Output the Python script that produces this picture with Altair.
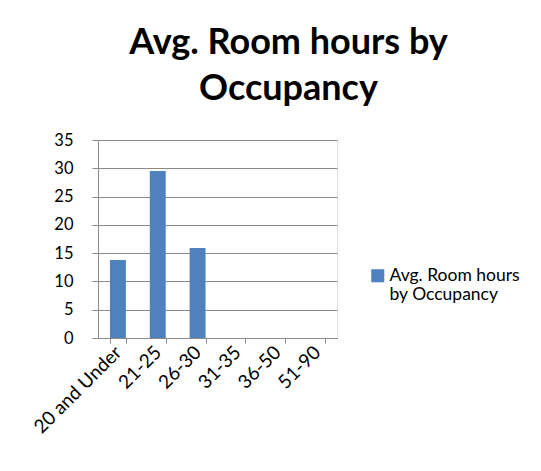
import altair as alt
import pandas as pd

categories = ["20 and Under", "21-25", "26-30", "31-35", "36-50", "51-90"]
values = [13.8, 29.5, 15.9, 0, 0, 0]
series_name = "Avg. Room hours by Occupancy"
y_ticks = [0, 5, 10, 15, 20, 25, 30, 35]

df = pd.DataFrame({"cat": categories, "val": values, "series": [series_name] * len(categories)})

FONT = "Lato"
GRID = "#8a8a8a"

chart = alt.Chart(df).mark_bar(color="#4F81BD").encode(
    x=alt.X("cat:N", sort=categories, title=None,
            scale=alt.Scale(paddingInner=0.6, paddingOuter=0.3),
            axis=alt.Axis(labelAngle=-45, labelAlign="right", labelBaseline="middle",
                          labelFontSize=19, labelPadding=6, labelFont=FONT, labelColor="#000",
                          tickBand="extent", tickSize=5, tickColor=GRID, domainColor=GRID,
                          grid=False)),
    y=alt.Y("val:Q", title=None,
            scale=alt.Scale(domain=[0, 35], nice=False),
            axis=alt.Axis(values=y_ticks, labelFontSize=16.5, labelFont=FONT, labelColor="#000",
                          labelPadding=19, tickSize=6, tickColor=GRID, domainColor=GRID,
                          grid=True, gridColor=GRID, gridOpacity=1)),
    fill=alt.Fill("series:N", scale=alt.Scale(range=["#4F81BD"]),
                  legend=alt.Legend(title=None, orient="none", legendX=271, legendY=127,
                                    symbolType="square", symbolSize=170, symbolStrokeWidth=0,
                                    labelFont=FONT, labelFontSize=17.5, labelColor="#000",
                                    labelOffset=3,
                                    labelExpr="['Avg. Room hours', 'by Occupancy']",
                                    labelLimit=300)),
).properties(
    width=239,
    height=198,
    title=alt.TitleParams(["Avg. Room hours by", "Occupancy"], font=FONT, fontSize=36,
                          fontWeight="bold", color="#000", anchor="middle", dx=71,
                          lineHeight=46, offset=24),
    autosize=alt.AutoSizeParams(type="none"),
    padding={"left": 90, "top": 132, "right": 196, "bottom": 125},
).configure_view(stroke=None).configure(background="white")

chart.save("out.html", embed_options={"renderer": "svg", "actions": False})
